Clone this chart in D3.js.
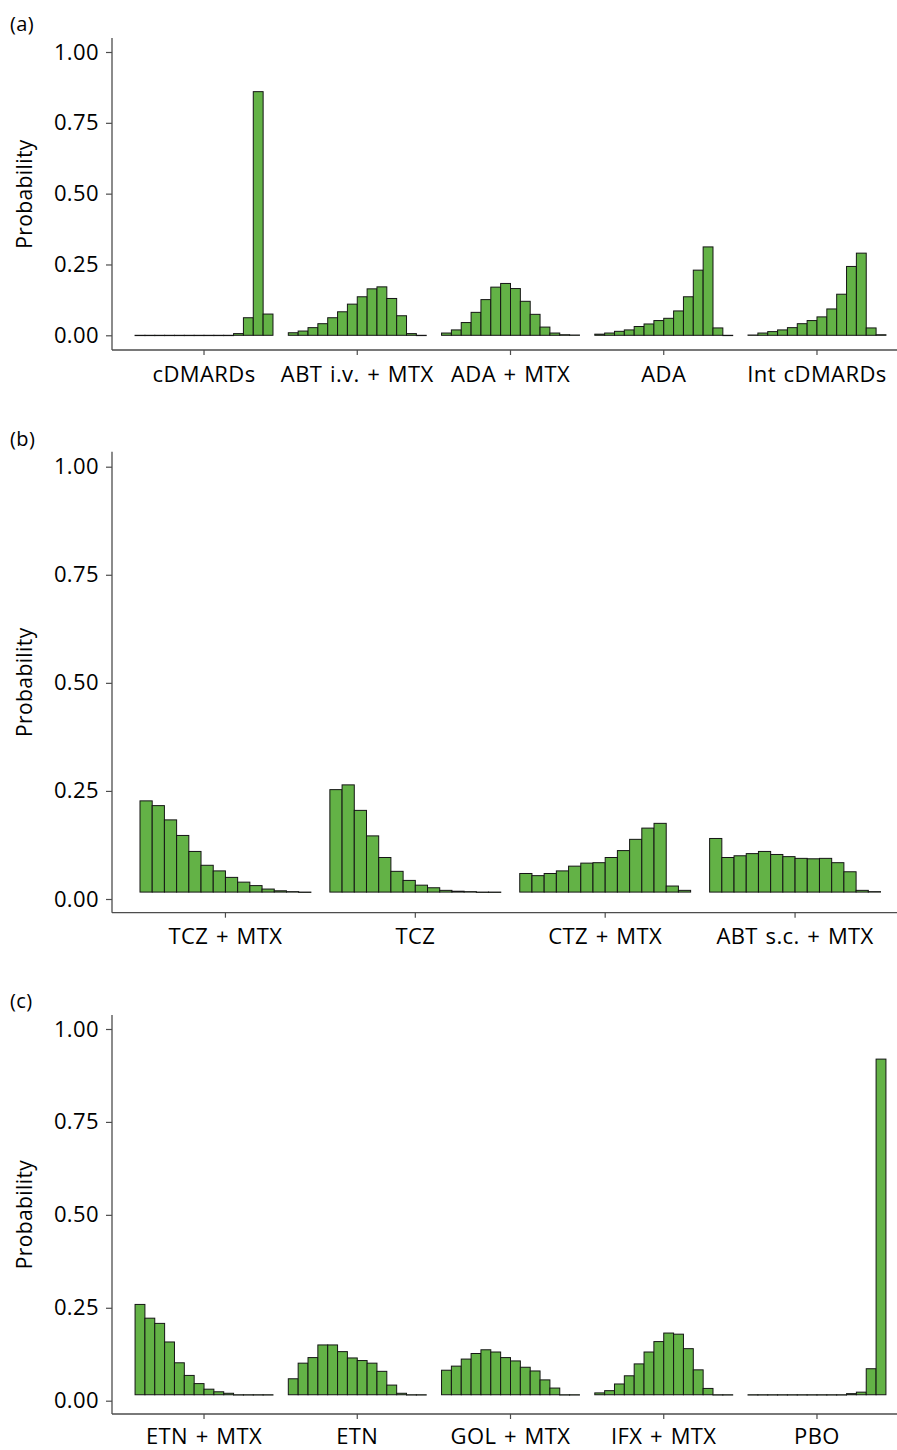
<!DOCTYPE html>
<html lang="en">
<head>
    <meta charset="UTF-8">
    <title>Rank probabilities</title>
    <script src="https://d3js.org/d3.v7.min.js"></script>
    <style>
        body { margin: 0; background: #fff; font-family: "Open Sans", "Noto Sans", sans-serif; }
        text { letter-spacing: 0.4px; word-spacing: 1.5px; }
        .tick text { font-family: "Open Sans", "Noto Sans", sans-serif; font-size: 22px; fill: #000; }
        .tick line { stroke: #4d4d4d; stroke-width: 1.2; }
    </style>
</head>
<body>
    <div id="chart"></div>
    <script>
        // ranks 1..14 within each treatment
        const ranks = [1, 2, 3, 4, 5, 6, 7, 8, 9, 10, 11, 12, 13, 14];
        const yTicks = [0, 0.25, 0.5, 0.75, 1];

        // panel (a)
        const treatmentsA = ["cDMARDs", "ABT i.v. + MTX", "ADA + MTX", "ADA", "Int cDMARDs"];
        const cdmards    = [0, 0, 0, 0, 0, 0, 0, 0, 0, 0, 0.006, 0.062, 0.860, 0.075];
        const abtIvMtx   = [0.009, 0.015, 0.027, 0.041, 0.062, 0.083, 0.110, 0.136, 0.164, 0.171, 0.130, 0.069, 0.006, 0];
        const adaMtx     = [0.008, 0.019, 0.045, 0.081, 0.126, 0.170, 0.183, 0.165, 0.120, 0.074, 0.029, 0.008, 0.002, 0.001];
        const ada        = [0.004, 0.008, 0.014, 0.019, 0.031, 0.040, 0.052, 0.060, 0.086, 0.136, 0.230, 0.312, 0.026, 0];
        const intCdmards = [0.001, 0.008, 0.013, 0.019, 0.027, 0.041, 0.052, 0.065, 0.093, 0.145, 0.243, 0.290, 0.026, 0.002];

        // panel (b)
        const treatmentsB = ["TCZ + MTX", "TCZ", "CTZ + MTX", "ABT s.c. + MTX"];
        const tczMtx   = [0.211, 0.200, 0.167, 0.131, 0.094, 0.062, 0.049, 0.034, 0.023, 0.015, 0.007, 0.003, 0.001, 0];
        const tcz      = [0.237, 0.248, 0.189, 0.130, 0.080, 0.048, 0.027, 0.016, 0.010, 0.004, 0.002, 0.001, 0, 0];
        const ctzMtx   = [0.043, 0.038, 0.043, 0.049, 0.060, 0.067, 0.068, 0.080, 0.096, 0.122, 0.148, 0.159, 0.014, 0.004];
        const abtScMtx = [0.124, 0.080, 0.084, 0.089, 0.094, 0.087, 0.082, 0.078, 0.077, 0.078, 0.068, 0.047, 0.004, 0.001];

        // panel (c)
        const treatmentsC = ["ETN + MTX", "ETN", "GOL + MTX", "IFX + MTX", "PBO"];
        const etnMtx = [0.243, 0.206, 0.192, 0.142, 0.086, 0.052, 0.030, 0.015, 0.008, 0.004, 0, 0, 0, 0];
        const etn    = [0.043, 0.085, 0.100, 0.134, 0.134, 0.116, 0.099, 0.092, 0.085, 0.063, 0.026, 0.004, 0, 0];
        const golMtx = [0.066, 0.077, 0.096, 0.111, 0.121, 0.115, 0.100, 0.091, 0.074, 0.064, 0.040, 0.018, 0, 0];
        const ifxMtx = [0.005, 0.011, 0.029, 0.051, 0.083, 0.115, 0.143, 0.166, 0.163, 0.124, 0.067, 0.017, 0, 0];
        const pbo    = [0, 0, 0, 0, 0, 0, 0, 0, 0, 0, 0.003, 0.007, 0.070, 0.903];

        // layout of the three stacked panels (pixels)
        const panels = [
            { tag: "(a)", tagY: 31, names: treatmentsA, series: [cdmards, abtIvMtx, adaMtx, ada, intCdmards],
              top: 38, bottom: 350, y0: 335.3, y1: 52, xr: [127.4, 893.6], base: 0, pad: 11 },
            { tag: "(b)", tagY: 446, names: treatmentsB, series: [tczMtx, tcz, ctzMtx, abtScMtx],
              top: 451.7, bottom: 912.7, y0: 899, y1: 466.7, xr: [130.5, 890], base: 0.016, pad: 11 },
            { tag: "(c)", tagY: 1008, names: treatmentsC, series: [etnMtx, etn, golMtx, ifxMtx, pbo],
              top: 1015, bottom: 1414, y0: 1400.7, y1: 1029, xr: [127.4, 893.6], base: 0.016, pad: 9 }
        ];

        const axisX = 112;
        const axisRight = 897;

        const svg = d3.select("#chart")
            .append("svg")
            .attr("width", 897)
            .attr("height", 1450);

        panels.forEach(p => {
            const g = svg.append("g");

            const x = d3.scaleBand()
                .domain(p.names)
                .range(p.xr)
                .paddingInner(0.1)
                .paddingOuter(0.05);

            const xr = d3.scaleBand()
                .domain(ranks)
                .range([0, x.bandwidth()]);

            const y = d3.scaleLinear()
                .domain([0, 1])
                .range([p.y0, p.y1]);

            // bars
            p.names.forEach((name, i) => {
                const vals = p.series[i];
                g.append("g")
                    .attr("transform", `translate(${x(name)},0)`)
                    .selectAll("rect")
                    .data(ranks)
                    .enter()
                    .append("rect")
                    .attr("x", r => xr(r))
                    .attr("width", xr.bandwidth())
                    .attr("y", (r, j) => y(p.base + vals[j]))
                    .attr("height", (r, j) => Math.max(y(p.base) - y(p.base + vals[j]), 0.3))
                    .attr("fill", "#63b246")
                    .attr("stroke", "#151515")
                    .attr("stroke-width", 1);
            });

            // y axis
            const yAxis = g.append("g")
                .attr("transform", `translate(${axisX},0)`)
                .call(d3.axisLeft(y).tickValues(yTicks).tickFormat(d3.format(".2f")).tickSize(6).tickPadding(7));
            yAxis.select(".domain").remove();
            g.append("line")
                .attr("x1", axisX).attr("x2", axisX)
                .attr("y1", p.top).attr("y2", p.bottom)
                .attr("stroke", "#4d4d4d").attr("stroke-width", 1.3);

            // x axis
            const xAxis = g.append("g")
                .attr("transform", `translate(0,${p.bottom})`)
                .call(d3.axisBottom(x).tickSize(5).tickPadding(p.pad));
            xAxis.select(".domain").remove();
            g.append("line")
                .attr("x1", axisX).attr("x2", axisRight)
                .attr("y1", p.bottom).attr("y2", p.bottom)
                .attr("stroke", "#4d4d4d").attr("stroke-width", 1.3);

            // y label
            g.append("text")
                .attr("transform", `translate(32,${(p.top + p.bottom) / 2}) rotate(-90)`)
                .attr("text-anchor", "middle")
                .attr("font-size", "21px")
                .attr("fill", "#000")
                .text("Probability");

            // panel tag
            g.append("text")
                .attr("x", 10)
                .attr("y", p.tagY)
                .attr("font-size", "20px")
                .attr("fill", "#000")
                .text(p.tag);
        });
    </script>
</body>
</html>
